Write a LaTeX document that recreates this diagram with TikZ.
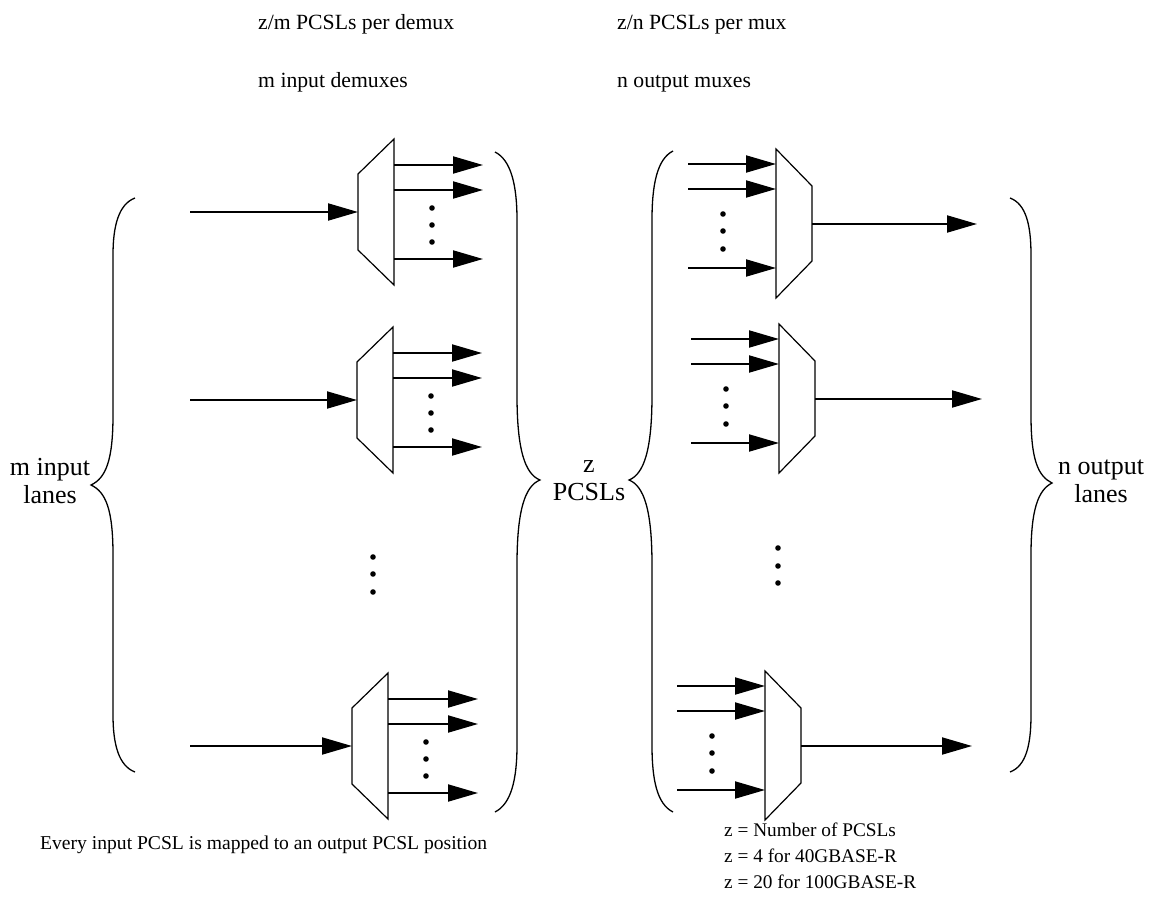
\documentclass[tikz,border=0pt]{standalone}
\usepackage{fontspec}
\setmainfont{Liberation Serif}
\usepackage{tikz}
\usetikzlibrary{arrows.meta,positioning}

\tikzset{
    sig/.style={line width=2pt, -{Triangle[length=30pt,width=17pt]}},
    unit/.style={line width=1.2pt, line join=miter},
    brc/.style={line width=1.3pt},
    lbl/.style={font=\fontsize{26}{28}\selectfont, align=center, inner sep=0pt},
    toptxt/.style={font=\fontsize{21.7}{24}\selectfont, anchor=base west, inner sep=0pt},
    note/.style={font=\fontsize{19.3}{26}\selectfont, anchor=base west, inner sep=0pt, align=left}
}

\begin{document}
\begin{tikzpicture}[x=1pt, y=-1pt]
    \useasboundingbox (0,0) rectangle (1152,905);

    % headings
    \node[toptxt] (demuxper) at (258,29) {z/m PCSLs per demux};
    \node[toptxt] (demuxnum) at (258,87) {m input demuxes};
    \node[toptxt] (muxper) at (617,29) {z/n PCSLs per mux};
    \node[toptxt] (muxnum) at (617,87) {n output muxes};

    % input demuxes
    \foreach \n/\x/\y/\t in {dA/358/212/483, dB/357/400/482, dC/352/746/478} {
        \draw[unit] (\x,\y-38) -- (\x+36,\y-73) -- (\x+36,\y+73) -- (\x,\y+38) -- cycle;
        \coordinate (\n-src) at (190,\y);
        \coordinate (\n-in) at (\x,\y);
        \draw[sig] (\n-src) -- (\n-in);
        \foreach \k/\dy in {1/-47,2/-22,3/47} {
            \coordinate (\n-s\k) at (\x+36,\y+\dy);
            \coordinate (\n-e\k) at (\t,\y+\dy);
            \draw[sig] (\n-s\k) -- (\n-e\k);
        }
        \foreach \dy in {-4,13,30}
            \fill (\x+74,\y+\dy) circle (2.8);
    }
    \foreach \dy in {557,574,592}
        \fill (373,\dy) circle (2.8);

    % output muxes
    \foreach \n/\x/\y/\s/\t in {mA/776/224/688/977, mB/779/399/691/982, mC/765/746/677/972} {
        \draw[unit] (\x,\y-75) -- (\x+36,\y-38) -- (\x+36,\y+37) -- (\x,\y+74) -- cycle;
        \foreach \k/\dy in {1/-60,2/-35,3/44} {
            \coordinate (\n-s\k) at (\s,\y+\dy);
            \coordinate (\n-e\k) at (\x,\y+\dy);
            \draw[sig] (\n-s\k) -- (\n-e\k);
        }
        \coordinate (\n-out) at (\x+36,\y);
        \coordinate (\n-dst) at (\t,\y);
        \draw[sig] (\n-out) -- (\n-dst);
        \foreach \dy in {-10,7,25}
            \fill (\x-53,\y+\dy) circle (2.8);
    }
    \foreach \dy in {548,566,583}
        \fill (778,\dy) circle (2.8);

    % braces
    \draw[brc] (135,198) .. controls (119,204) and (113,225) .. (113,255)
        -- (113,415) .. controls (113,460) and (106,478) .. (91,485)
        .. controls (106,492) and (113,510) .. (113,555)
        -- (113,715) .. controls (113,745) and (119,766) .. (135,772);
    \draw[brc] (495,152) .. controls (511,160) and (517,185) .. (517,220)
        -- (517,395) .. controls (517,450) and (525,474) .. (540,480)
        .. controls (525,486) and (517,510) .. (517,565)
        -- (517,745) .. controls (517,780) and (511,804) .. (495,812);
    \draw[brc] (673,151) .. controls (657,159) and (652,185) .. (652,220)
        -- (652,395) .. controls (652,450) and (644,474) .. (629,480)
        .. controls (644,486) and (652,510) .. (652,565)
        -- (652,745) .. controls (652,780) and (657,804) .. (673,812);
    \draw[brc] (1010,198) .. controls (1026,204) and (1031,225) .. (1031,255)
        -- (1031,415) .. controls (1031,460) and (1038,476) .. (1052,483)
        .. controls (1038,490) and (1031,510) .. (1031,555)
        -- (1031,715) .. controls (1031,745) and (1026,766) .. (1010,772);

    % brace labels
    \node[lbl] (inlanes) at (50,481) {m input\\lanes};
    \node[lbl] (pcsls) at (589,481) {z\\PCSLs};
    \node[lbl] (outlanes) at (1101,481) {n output\\lanes};

    % notes
    \node[note, font=\fontsize{19.6}{26}\selectfont] (mapping) at (40,849) {Every input PCSL is mapped to an output PCSL position};
    \node[note] (zlegend) at (724,888) {z = Number of PCSLs\\z = 4 for 40GBASE-R\\z = 20 for 100GBASE-R};
\end{tikzpicture}
\end{document}
